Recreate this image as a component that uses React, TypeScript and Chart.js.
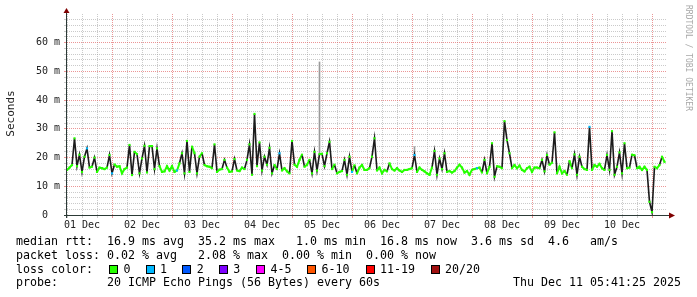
import React, { useEffect, useRef } from 'react';
import { Chart, registerables } from 'chart.js';

Chart.register(...registerables);

// ---- data ----
const START_HOUR = 6; // Dec 1 06:00 (hours since Dec 1 00:00)
const END_HOUR = 246; // Dec 11 06:00
const dayLabels = ['01 Dec', '02 Dec', '03 Dec', '04 Dec', '05 Dec', '06 Dec', '07 Dec', '08 Dec', '09 Dec', '10 Dec'];
const yTickLabels = ['0  ', '10 m', '20 m', '30 m', '40 m', '50 m', '60 m'];

// hourly median rtt (ms)
const medianRtt = [
  15.7, 16.5, 17.4, 26.7, 17, 21, 15, 20.3, 23.2, 16.5, 16.8, 20,
  15, 16.5, 16.3, 16, 16.5, 20.9, 14.5, 17.6, 16.8, 17, 14.5, 16,
  16.5, 24.4, 13.9, 22, 21.2, 14.5, 19.7, 24.1, 14.8, 24, 24, 16,
  23.2, 17, 15, 15.2, 17, 15.5, 17, 15, 15.5, 18, 21.5, 14.5,
  25.8, 15, 23.8, 21.5, 14.5, 20.3, 21.5, 17.4, 17, 16.8, 16.3, 24.6,
  15, 15.8, 16, 19.2, 16.5, 15, 15.2, 19.5, 15.5, 15.3, 16.5, 16,
  19.2, 24.6, 14, 35.2, 17, 25.3, 15.5, 20.3, 17.5, 23.4, 14.5, 17.4,
  16, 21.5, 15.5, 16.3, 15.2, 14.5, 25.8, 17.5, 16.8, 19.2, 21, 16.8,
  17.5, 19.2, 14.5, 22, 15.5, 21.2, 21.3, 17, 21.5, 25.5, 16, 17.5,
  14.5, 15, 15.3, 19.2, 14, 20.3, 15, 17.3, 14.5, 16.5, 17.4, 15.7,
  15.7, 16.3, 20.3, 26.7, 15.5, 16.5, 14.5, 15.7, 15.2, 18, 16, 15.5,
  16.3, 15.5, 15, 15.7, 15.7, 16, 16.3, 20.9, 15, 16.5, 15.7, 15.2,
  14.5, 14, 16.5, 22.3, 14, 19.7, 16, 21.5, 15, 15.3, 14.8, 15.3,
  16.5, 17.5, 16.5, 14.8, 15.3, 14, 15.7, 16, 16.3, 16.5, 14.8, 19.2,
  14.5, 16.8, 25, 13.3, 17, 16.8, 16.3, 32.7, 26.1, 21.5, 16.3, 17.4,
  16.3, 17.2, 15.7, 15.2, 16.3, 16.8, 15, 16.5, 16.5, 16.3, 19.2, 15.2,
  20.9, 17.5, 18.2, 28.8, 14.5, 16.8, 14.5, 15.3, 14, 18.8, 16.3, 21.1,
  14, 20.3, 16.8, 16, 15.7, 30.7, 15.7, 17.4, 16.8, 17.8, 16.3, 15.7,
  20.9, 15.7, 29.2, 14, 16.8, 21.8, 14.5, 25, 16.3, 16.5, 21, 20.8,
  16.3, 16.8, 15.7, 16.8, 15.7, 4.6, 1.0, 16.8, 16.3, 17.4, 20.3, 18.5,
];

// sample indices with 1/20 packet loss
const lossIndex = [8, 18, 44, 85, 114, 139, 164, 209];

// outlier ping smoke (light grey)
const outlierIndex = [101, 139];
const outlierLow = [21, 21];
const outlierHigh = [53.3, 23.8];

const lossLabels = ['0', '1', '2', '3', '4-5', '6-10', '11-19', '20/20'];
const lossColors = ['#26ff00', '#00b8ff', '#0059ff', '#7e00ff', '#ff00ff', '#ff5500', '#ff0000', '#a01010'];

const statRows = [
  'median rtt:  16.9 ms avg  35.2 ms max   1.0 ms min  16.8 ms now  3.6 ms sd  4.6   am/s',
  'packet loss: 0.02 % avg   2.08 % max  0.00 % min  0.00 % now',
  'loss color:',
  'probe:       20 ICMP Echo Pings (56 Bytes) every 60s',
];
const timestampText = 'Thu Dec 11 05:41:25 2025';
const yTitle = 'Seconds';
const watermark = 'RRDTOOL / TOBI OETIKER';

// ---- styles / layout ----
const MONO = '"DejaVu Sans Mono", monospace';
const GRID = 'rgba(150,150,150,0.5)';
const MGRID = 'rgba(222,80,80,0.6)';
const AXIS = '#2c3a36';
const ARROW = '#7f0000';
const SPIKE = '#1c1c1c';
const ROW_BASELINES = [245, 258.7, 272.5, 286];
const BOX_X = [109, 146, 182, 219, 256, 307, 366, 431];
const BOX_LABEL_X = [123.5, 160, 196.7, 233.3, 270.5, 321.5, 380, 445];

const decor = {
  id: 'decor',
  beforeDraw(chart: any) {
    const c = chart.ctx;
    c.save();
    c.fillStyle = '#ffffff';
    c.fillRect(0, 0, chart.width, chart.height);
    c.restore();
  },
  afterDraw(chart: any) {
    const c = chart.ctx as CanvasRenderingContext2D;
    const a = chart.chartArea;
    c.save();
    // axes
    c.strokeStyle = AXIS;
    c.lineWidth = 1;
    c.beginPath();
    c.moveTo(a.left - 0.5, a.bottom + 3);
    c.lineTo(a.left - 0.5, a.top - 2);
    c.moveTo(a.left - 3, a.bottom + 0.5);
    c.lineTo(a.right + 2, a.bottom + 0.5);
    c.stroke();
    // arrows
    c.fillStyle = ARROW;
    c.beginPath();
    c.moveTo(a.left - 3.5, a.top - 1);
    c.lineTo(a.left + 2.5, a.top - 1);
    c.lineTo(a.left - 0.5, a.top - 6);
    c.closePath();
    c.fill();
    c.beginPath();
    c.moveTo(a.right + 2, a.bottom - 2.5);
    c.lineTo(a.right + 2, a.bottom + 3.5);
    c.lineTo(a.right + 8, a.bottom + 0.5);
    c.closePath();
    c.fill();

    // y title
    c.fillStyle = '#222';
    c.font = '11px ' + MONO;
    c.textAlign = 'center';
    c.textBaseline = 'middle';
    c.save();
    c.translate(11, 113.5);
    c.rotate(-Math.PI / 2);
    c.fillText(yTitle, 0, 0);
    c.restore();

    // watermark
    c.save();
    c.fillStyle = '#a8a8a8';
    c.font = '8px ' + MONO;
    c.textAlign = 'left';
    c.textBaseline = 'middle';
    c.translate(688, 5);
    c.rotate(Math.PI / 2);
    c.fillText(watermark, 0, 0);
    c.restore();

    // legend rows
    c.fillStyle = '#000';
    c.font = '11.63px ' + MONO;
    c.textAlign = 'left';
    c.textBaseline = 'alphabetic';
    statRows.forEach((t, i) => c.fillText(t, 16, ROW_BASELINES[i]));
    c.fillText(timestampText, 513, ROW_BASELINES[3]);

    lossLabels.forEach((lab, i) => {
      c.fillStyle = lossColors[i];
      c.fillRect(BOX_X[i], 265, 9, 9);
      c.strokeStyle = '#000';
      c.lineWidth = 1;
      c.strokeRect(BOX_X[i] + 0.5, 265.5, 8, 8);
      c.fillStyle = '#000';
      c.fillText(lab, BOX_LABEL_X[i], ROW_BASELINES[2]);
    });
    c.restore();
  },
};

export default function App() {
  const ref = useRef<HTMLCanvasElement>(null);
  useEffect(() => {
    const canvas = ref.current;
    if (!canvas) return;
    const medianPoints = medianRtt.map((v, i) => ({ x: START_HOUR + i, y: v }));
    const pointColors = medianRtt.map((_, i) => (lossIndex.includes(i) ? lossColors[1] : lossColors[0]));
    const outliers = outlierIndex.map((idx, k) => ({ x: START_HOUR + idx, y: [outlierLow[k], outlierHigh[k]] }));

    const chart = new Chart(canvas, {
      type: 'line',
      data: {
        datasets: [
          {
            type: 'bar',
            data: outliers as any,
            backgroundColor: '#9a9a9a',
            borderWidth: 0,
            barThickness: 1,
            order: 2,
          } as any,
          {
            type: 'line',
            data: medianPoints,
            borderColor: lossColors[0],
            borderWidth: 2,
            tension: 0,
            pointStyle: 'rect',
            pointRadius: 1.5,
            pointBorderWidth: 0,
            pointBackgroundColor: pointColors,
            segment: {
              borderColor: (ctx: any) =>
                Math.abs(ctx.p1.parsed.y - ctx.p0.parsed.y) > 2.5 ? SPIKE : lossColors[0],
              borderWidth: (ctx: any) =>
                Math.abs(ctx.p1.parsed.y - ctx.p0.parsed.y) > 2.5 ? 1.6 : 2,
            },
            order: 1,
          } as any,
        ],
      },
      options: {
        responsive: false,
        animation: false,
        devicePixelRatio: 1,
        events: [],
        layout: { padding: { left: 0, right: 30, top: 14, bottom: 0 } },
        plugins: { legend: { display: false }, tooltip: { enabled: false }, title: { display: false } },
        scales: {
          x: {
            type: 'linear',
            min: START_HOUR,
            max: END_HOUR,
            offset: false,
            afterFit: (s: any) => {
              s.height = 82;
            },
            ticks: {
              stepSize: 6,
              autoSkip: false,
              maxRotation: 0,
              padding: 1,
              color: '#222',
              font: { family: MONO, size: 10 },
              callback: (v: any) => {
                const n = Number(v);
                return (n - 12) % 24 === 0 && n >= 12 ? dayLabels[(n - 12) / 24] ?? '' : '';
              },
            },
            grid: {
              offset: false,
              lineWidth: 1,
              tickLength: 3,
              color: (ctx: any) => {
                const v = ctx.tick?.value;
                if (v === END_HOUR) return 'rgba(0,0,0,0)';
                return v % 24 === 0 ? MGRID : GRID;
              },
            },
            border: { display: false, dash: [1, 1] },
          },
          y: {
            type: 'linear',
            min: 0,
            max: 70,
            afterFit: (s: any) => {
              s.width = 67;
            },
            ticks: {
              stepSize: 2,
              autoSkip: false,
              padding: 4,
              color: '#222',
              font: { family: MONO, size: 10 },
              callback: (v: any) => {
                const n = Number(v);
                return n % 10 === 0 && n < 70 ? yTickLabels[n / 10] : '';
              },
            },
            grid: {
              lineWidth: 1,
              tickLength: 3,
              color: (ctx: any) => {
                const v = ctx.tick?.value;
                if (v === 70) return 'rgba(0,0,0,0)';
                return v % 10 === 0 ? MGRID : GRID;
              },
            },
            border: { display: false, dash: [1, 1] },
          },
        },
      } as any,
      plugins: [decor],
    });
    return () => chart.destroy();
  }, []);

  return (
    <div style={{ position: 'fixed', left: 0, top: 0, width: 697, height: 297, background: '#fff' }}>
      <canvas ref={ref} width={697} height={297} style={{ display: 'block', width: 697, height: 297 }} />
    </div>
  );
}
